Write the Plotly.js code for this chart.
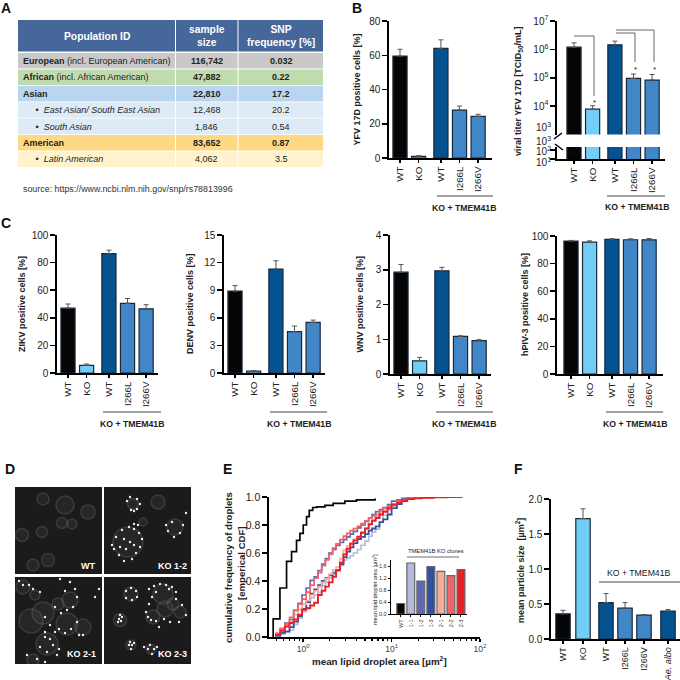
<!DOCTYPE html>
<html>
<head>
<meta charset="utf-8">
<script src="https://cdn.plot.ly/plotly-3.0.1.min.js"></script>
<style>html,body{margin:0;padding:0;background:#fff}</style>
</head>
<body>
<div id="plotDiv" style="width:680px;height:680px"></div>
<script>
// population table (panel A)
var tableHeader = ['<b>Population ID</b>', '<b>sample<br>size</b>', '<b>SNP<br>frequency [%]</b>'];
var bullet = '\u00a0\u00a0\u00a0\u00a0\u00a0\u2022\u00a0\u00a0';
var popIds = ['<b>European</b> (incl. European American)', '<b>African</b> (incl. African American)', '<b>Asian</b>',
	bullet + '<i>East Asian/ South East Asian</i>', bullet + '<i>South Asian</i>',
	'<b>American</b>', bullet + '<i>Latin American</i>'];
var popSizes = ['<b>116,742</b>', '<b>47,882</b>', '<b>22,810</b>', '12,468', '1,846', '<b>83,652</b>', '4,062'];
var popFreq = ['<b>0.032</b>', '<b>0.22</b>', '<b>17.2</b>', '20.2', '0.54', '<b>0.87</b>', '3.5'];
var popColors = ['#c9c9c9', '#c0dcae', '#bad5ef', '#deebf7', '#deebf7', '#fdd985', '#fff2cc'];

// bar panels
var labels5 = ['WT', 'KO', 'WT', 'I266L', 'I266V'];
var pos5 = [0, 1, 2.2, 3.2, 4.2];
var colors5 = ['#050505', '#72cef5', '#04528f', '#4187c8', '#4187c8'];
var yfvVal = [59.5, 1, 64, 28, 24.3];
var yfvErr = [4, 0.3, 5, 2.3, 1.2];
var titerVal = [1.2e6, 7.8e3, 1.45e6, 9.5e4, 8.3e4];
var titerErr = [5e5, 2.5e3, 5e5, 4e4, 4.7e4];
var zikvVal = [47, 5.5, 86.5, 50.5, 46.5];
var zikvErr = [3, 1, 2.5, 3.5, 3];
var denvVal = [8.9, 0.2, 11.3, 4.5, 5.5];
var denvErr = [0.6, 0.05, 0.9, 0.6, 0.25];
var wnvVal = [2.93, 0.38, 2.97, 1.08, 0.96];
var wnvErr = [0.22, 0.1, 0.1, 0.02, 0.03];
var hpivVal = [96.3, 95.5, 97.5, 97.3, 97.2];
var hpivErr = [0.5, 1, 0.6, 0.7, 1];

var labelsF = ['WT', 'KO', 'WT', 'I266L', 'I266V', '<i>Ae. albo</i>'];
var posF = [0, 1, 2.15, 3.1, 4.05, 5.25];
var colorsF = ['#050505', '#72cef5', '#04528f', '#4187c8', '#4187c8', '#04528f'];
var sizeVal = [0.36, 1.72, 0.52, 0.44, 0.34, 0.40];
var sizeErr = [0.05, 0.14, 0.13, 0.08, 0.01, 0.02];

// inset of panel E
var cloneLabels = ['WT', '1-1', '1-2', '1-3', '2-1', '2-2', '2-3'];
var cloneColors = ['#050505', '#b4b8dc', '#5f68b2', '#3350a0', '#f5ad9f', '#ee6468', '#e81f27'];
var cloneVal = [0.35, 1.7, 1.1, 1.58, 1.42, 1.28, 1.48];

var cdfWtX = [0.457, 0.457, 0.545, 0.648, 0.738, 0.84, 0.917, 1.0, 1.09, 1.17, 1.28, 1.42, 1.76, 2.18, 2.96, 4.0, 6.5];
var cdfWtY = [0, 0.13, 0.35, 0.54, 0.61, 0.69, 0.74, 0.80, 0.86, 0.905, 0.925, 0.93, 0.94, 0.955, 0.97, 0.98, 0.99];
var cdfBins = [0.48, 0.55, 0.62, 0.70, 0.78, 0.87, 0.97, 1.08, 1.2, 1.33, 1.47, 1.62, 1.78, 1.95, 2.15, 2.35, 2.6, 2.85, 3.1, 3.4,
	3.7, 4.1, 4.5, 5, 5.5, 6, 6.6, 7.3, 8, 9, 10, 11.5, 13, 15, 18, 22, 30, 42, 62];
var cdf11 = [0.003, 0.02, 0.035, 0.05, 0.09, 0.135, 0.18, 0.21, 0.28, 0.30, 0.32, 0.365, 0.39, 0.42, 0.45, 0.475, 0.51, 0.55, 0.565, 0.58,
	0.60, 0.625, 0.655, 0.685, 0.72, 0.75, 0.77, 0.82, 0.87, 0.91, 0.935, 0.96, 0.975, 0.99, 1.0];
var cdf12 = [0.02, 0.06, 0.10, 0.125, 0.19, 0.24, 0.30, 0.35, 0.405, 0.43, 0.475, 0.52, 0.56, 0.60, 0.625, 0.655, 0.675, 0.695, 0.715, 0.735,
	0.755, 0.78, 0.80, 0.825, 0.85, 0.875, 0.895, 0.91, 0.925, 0.945, 0.97, 0.98, 0.99, 0.995, 1.0];
var cdf13 = [0.01, 0.03, 0.04, 0.07, 0.11, 0.15, 0.20, 0.25, 0.31, 0.34, 0.37, 0.40, 0.42, 0.44, 0.46, 0.48, 0.52, 0.57, 0.61, 0.64,
	0.67, 0.70, 0.715, 0.735, 0.76, 0.775, 0.79, 0.82, 0.84, 0.875, 0.92, 0.95, 0.97, 0.985, 0.993, 1.0];
var cdf21 = [0.026, 0.05, 0.075, 0.11, 0.16, 0.195, 0.235, 0.26, 0.30, 0.33, 0.36, 0.39, 0.415, 0.45, 0.48, 0.50, 0.56, 0.62, 0.65, 0.675,
	0.70, 0.72, 0.75, 0.775, 0.81, 0.835, 0.86, 0.885, 0.905, 0.925, 0.945, 0.965, 0.98, 0.988, 0.995, 0.998, 1.0];
var cdf22 = [0.026, 0.06, 0.09, 0.14, 0.19, 0.235, 0.27, 0.32, 0.37, 0.42, 0.46, 0.51, 0.55, 0.59, 0.635, 0.665, 0.695, 0.72, 0.74, 0.76,
	0.775, 0.79, 0.81, 0.83, 0.85, 0.865, 0.875, 0.90, 0.92, 0.935, 0.95, 0.97, 0.98, 0.99, 0.995, 0.998, 1.0];
var cdf23 = [0.014, 0.045, 0.075, 0.10, 0.125, 0.16, 0.195, 0.205, 0.225, 0.245, 0.30, 0.33, 0.36, 0.39, 0.43, 0.475, 0.53, 0.59, 0.63, 0.665,
	0.69, 0.715, 0.745, 0.775, 0.805, 0.83, 0.85, 0.875, 0.895, 0.92, 0.945, 0.96, 0.975, 0.985, 0.99, 0.995, 0.997, 0.999, 1.0];

// panel D, cells and bright droplets seen in the micrographs (image pixels)
var wtCellX = [50, 73, 47, 57, 27, 7, 33, 18, 28];
var wtCellY = [18, 25, 36, 37, 45, 48, 73, 78, 12];
var wtCellS = [18, 14, 11, 10, 11, 13, 13, 12, 12];
var ko12CellX = [29, 54, 71, 24, 39];
var ko12CellY = [17, 15, 40, 55, 35];
var ko12CellS = [11, 14, 16, 30, 8];
var ko12SpotX = [23, 26, 33, 36, 33, 27, 30, 8, 12, 18, 25, 30, 35, 38, 36, 32, 28, 20, 15, 10, 20, 26, 22, 30, 16, 34, 30, 62, 64, 70, 76, 79, 68, 82];
var ko12SpotY = [14, 10, 12, 17, 22, 23, 24, 58, 50, 43, 40, 42, 46, 52, 60, 66, 72, 74, 68, 62, 52, 55, 62, 58, 60, 38, 37, 38, 44, 50, 46, 38, 35, 26];
var ko21CellX = [16, 28, 55, 52, 68, 32, 18, 8, 20, 43];
var ko21CellY = [44, 36, 23, 47, 50, 67, 83, 10, 18, 27];
var ko21CellS = [24, 22, 16, 22, 16, 22, 12, 14, 10, 12];
var ko21SpotX = [4, 8, 14, 18, 25, 45, 55, 50, 60, 62, 58, 52, 46, 40, 30, 35, 44, 50, 56, 62, 68, 30, 30, 35, 38, 32, 25, 44, 42, 12, 22, 30, 80, 84, 64, 40];
var ko21SpotY = [4, 8, 8, 12, 15, 2, 5, 14, 12, 20, 30, 33, 36, 30, 40, 48, 52, 56, 52, 45, 58, 55, 60, 62, 68, 75, 70, 72, 78, 78, 82, 85, 20, 12, 58, 55];
var ko23CellX = [27, 59, 69, 61, 49, 76, 16, 27, 47];
var ko23CellY = [17, 17, 27, 32, 40, 35, 43, 68, 72];
var ko23CellS = [14, 20, 12, 16, 14, 12, 13, 10, 10];
var ko23SpotX = [22, 27, 32, 33, 28, 22, 16, 15, 17, 14, 18, 25, 28, 30, 27, 26, 45, 50, 56, 62, 68, 72, 72, 65, 52, 48, 45, 42, 44, 47, 52, 60, 66, 55, 75, 82, 78, 46, 50, 48, 44, 40, 53];
var ko23SpotY = [14, 11, 14, 20, 23, 21, 38, 42, 44, 45, 40, 68, 68, 66, 72, 65, 12, 9, 7, 8, 10, 15, 22, 12, 15, 20, 27, 35, 40, 43, 44, 42, 45, 50, 45, 38, 28, 68, 72, 77, 72, 70, 70];

var FONT = '"Liberation Sans", Arial, sans-serif';
var traces = [];
var shapes = [];
var annotations = [];
var layout = {
	width: 680, height: 680,
	margin: {l: 0, r: 0, t: 0, b: 0},
	paper_bgcolor: '#fff', plot_bgcolor: 'rgba(0,0,0,0)',
	showlegend: false,
	font: {family: FONT, color: '#222', size: 10},
	shapes: shapes, annotations: annotations
};
var axisCount = 0;

function fx(px) { return px / 680; }
function fy(py) { return 1 - py / 680; }

function addText(text, px, py, size, opts) {
	var o = opts || {};
	annotations.push({
		text: text, xref: 'paper', yref: 'paper', x: fx(px), y: fy(py),
		xanchor: o.anchor || 'center', yanchor: 'middle', showarrow: false,
		textangle: o.angle || 0, borderpad: 0,
		font: {family: FONT, size: size, color: o.color || '#222'}
	});
}

function addLine(x0, y0, x1, y1, color, width) {
	shapes.push({type: 'line', xref: 'paper', yref: 'paper', x0: fx(x0), y0: fy(y0), x1: fx(x1), y1: fy(y1),
		line: {color: color || '#444', width: width || 1}});
}

function addRect(x0, y0, x1, y1, color) {
	shapes.push({type: 'rect', layer: 'below', xref: 'paper', yref: 'paper', x0: fx(x0), y0: fy(y0), x1: fx(x1), y1: fy(y1),
		fillcolor: color, line: {width: 0}});
}

// makes a pair of axes placed by pixel box, returns the trace refs
function addAxes(left, right, top, bottom, xOpts, yOpts) {
	axisCount++;
	var n = axisCount == 1 ? '' : axisCount;
	layout['xaxis' + n] = Object.assign({domain: [fx(left), fx(right)], anchor: 'y' + n, automargin: false, zeroline: false, showgrid: false}, xOpts);
	layout['yaxis' + n] = Object.assign({domain: [fy(bottom), fy(top)], anchor: 'x' + n, automargin: false, zeroline: false, showgrid: false}, yOpts);
	return {xaxis: 'x' + n, yaxis: 'y' + n};
}

function barAxisX(lo, hi, pos, labels, size) {
	return {range: [lo, hi], tickmode: 'array', tickvals: pos, ticktext: labels, tickangle: -90,
		showline: true, linecolor: '#000', linewidth: 1.6, ticks: 'outside', ticklen: 3, tickwidth: 1.5, tickcolor: '#000',
		tickfont: {size: size || 9.8, family: FONT, color: '#222'}};
}

function barAxisY(range, tickvals, ticktext, size) {
	return {range: range, tickmode: 'array', tickvals: tickvals, ticktext: ticktext || tickvals.map(String),
		showline: true, linecolor: '#000', linewidth: 1.6, ticks: 'outside', ticklen: 5, tickwidth: 1.5, tickcolor: '#000',
		tickfont: {size: size || 10, family: FONT, color: '#222'}};
}

function addBars(ax, pos, val, err, colors, width, edge) {
	var t = {type: 'bar', x: pos, y: val, width: width, xaxis: ax.xaxis, yaxis: ax.yaxis, hoverinfo: 'skip',
		marker: {color: colors, line: {color: edge || '#17293b', width: 1.2}}};
	if (err) {
		t.error_y = {type: 'data', symmetric: false, array: err, arrayminus: err.map(function() { return 0; }),
			color: '#555', thickness: 1, width: 2.5};
	}
	traces.push(t);
}

// one five bar chart with the KO + TMEM41B bracket below
function fivePanel(left, right, top, bottom, firstBar, val, err, yMax, ticks, title, titleX, lineL, lineR, lineY, textX) {
	var unit = 18.6;
	var ax = addAxes(left, right, top, bottom,
		barAxisX((left - firstBar) / unit, (right - firstBar) / unit, pos5, labels5),
		barAxisY([0, yMax], ticks));
	addBars(ax, pos5, val, err, colors5, 0.76);
	addText('<b>' + title + '</b>', titleX, (top + bottom) / 2, 9, {angle: -90});
	addLine(lineL, lineY, lineR, lineY, '#444', 1);
	addText('<b>KO + TMEM41B</b>', textX, lineY + 12, 8.7);
}

// panel A
var colEdges = [[18, 175], [176, 237.5], [238.5, 323]];
var colCenters = [97, 207, 281];
for (var c = 0; c < 3; c++) {
	addRect(colEdges[c][0], 20, colEdges[c][1], 51.5, '#46679a');
	addText(tableHeader[c], colCenters[c], 36, 10.3, {color: '#fff'});
}
for (var r = 0; r < popIds.length; r++) {
	var rowTop = 53 + r * 16.4;
	for (c = 0; c < 3; c++) {
		addRect(colEdges[c][0], rowTop, colEdges[c][1], rowTop + 15.6, popColors[r]);
	}
	addText(popIds[r], 22, rowTop + 8, 9, {anchor: 'left'});
	addText(popSizes[r], colCenters[1], rowTop + 8, 9);
	addText(popFreq[r], colCenters[2], rowTop + 8, 9);
}
addText('source: https://www.ncbi.nlm.nih.gov/snp/rs78813996', 22, 189, 8.9, {anchor: 'left', color: '#333'});

// panel B
fivePanel(389, 492, 21, 158, 400, yfvVal, yfvErr, 80, [0, 20, 40, 60, 80], 'YFV 17D positive cells [%]', 357, 437, 493, 196, 464);

var titerUnit = 18.6;
var titerXOff = barAxisX((557 - 574) / titerUnit, (665 - 574) / titerUnit, pos5, labels5);
var titerHi = addAxes(557, 665, 21, 134.5,
	{range: titerXOff.range, visible: false},
	barAxisY([3, 7], [1e4, 1e5, 1e6, 1e7], ['10<sup>4</sup>', '10<sup>5</sup>', '10<sup>6</sup>', '10<sup>7</sup>']));
layout['yaxis' + axisCount].type = 'log';
addBars(titerHi, pos5, titerVal, titerErr, colors5, 0.76);
var titerLoAxis = barAxisY([1, 2.33], [10, 100], ['10', '100']);
titerLoAxis.showticklabels = false;
var titerLo = addAxes(557, 665, 147, 159, titerXOff, titerLoAxis);
layout['yaxis' + axisCount].type = 'log';
addBars(titerLo, pos5, titerVal, null, colors5, 0.76);
addLine(554, 139, 562, 133, '#000', 1.5);
addLine(555, 144, 563, 150, '#000', 1.5);
addText('10<sup>3</sup>', 552, 127, 10, {anchor: 'right'});
addText('10<sup>3</sup>', 552, 141, 10, {anchor: 'right'});
addText('10<sup>2</sup>', 552, 151, 10, {anchor: 'right'});
addText('10<sup>1</sup>', 552, 162, 10, {anchor: 'right'});
addText('<b>viral titer YFV 17D [TCID<sub>50</sub>/mL]</b>', 519, 92, 9, {angle: -90});
addLine(574, 36, 594, 36, '#666', 1);
addLine(594, 36, 594, 96, '#666', 1);
addLine(616, 33, 635, 33, '#666', 1);
addLine(635, 33, 635, 62, '#666', 1);
addLine(616, 30, 654, 30, '#666', 1);
addLine(654, 30, 654, 62, '#666', 1);
addText('*', 594, 102, 8);
addText('*', 635, 70, 8);
addText('*', 654, 70, 8);
addLine(607, 196, 665, 196, '#444', 1);
addText('<b>KO + TMEM41B</b>', 637, 207, 8.7);

// panel C
fivePanel(57, 158, 235, 373, 68, zikvVal, zikvErr, 100, [0, 20, 40, 60, 80, 100], 'ZIKV positive cells [%]', 22, 103, 161, 412, 132);
fivePanel(224, 325, 235, 373, 235, denvVal, denvErr, 15, [0, 3, 6, 9, 12, 15], 'DENV positive cells [%]', 190, 270, 327, 412, 299);
fivePanel(390, 491, 235, 374, 401, wnvVal, wnvErr, 4, [0, 1, 2, 3, 4], 'WNV positive cells [%]', 359, 436, 493, 412, 464);
fivePanel(557, 663, 236, 374, 571, hpivVal, hpivErr, 100, [0, 20, 40, 60, 80, 100], 'hPIV-3 positive cells [%]', 525, 606, 663, 412, 635);

// panel D
function micro(left, top, cellX, cellY, cellS, spotX, spotY, label, labelX, labelY) {
	var w = 87;
	addRect(left, top, left + w, top + w, '#1b1b1b');
	var ax = addAxes(left, left + w, top, top + w, {range: [0, 87], visible: false}, {range: [87, 0], visible: false});
	traces.push({type: 'scatter', mode: 'markers', x: cellX, y: cellY, xaxis: ax.xaxis, yaxis: ax.yaxis, hoverinfo: 'skip',
		marker: {size: cellS, color: 'rgba(130,130,130,0.16)', line: {color: 'rgba(130,130,130,0.4)', width: 1.5}}});
	if (spotX) {
		traces.push({type: 'scatter', mode: 'markers', x: spotX, y: spotY, xaxis: ax.xaxis, yaxis: ax.yaxis, hoverinfo: 'skip',
			marker: {size: 2.4, color: '#eeeeee'}});
	}
	addText('<b>' + label + '</b>', labelX, labelY, 9, {color: '#fff'});
}
micro(15, 487, wtCellX, wtCellY, wtCellS, null, null, 'WT', 88, 566);
micro(104, 487, ko12CellX, ko12CellY, ko12CellS, ko12SpotX, ko12SpotY, 'KO 1-2', 172, 566);
micro(15, 577, ko21CellX, ko21CellY, ko21CellS, ko21SpotX, ko21SpotY, 'KO 2-1', 81, 654);
micro(104, 577, ko23CellX, ko23CellY, ko23CellS, ko23SpotX, ko23SpotY, 'KO 2-3', 172, 654);

// panel E
var cdfAx = addAxes(269, 480, 497, 637,
	{type: 'log', range: [Math.log10(0.41), 2], tickmode: 'array', tickvals: [1, 10, 100], ticktext: ['10<sup>0</sup>', '10<sup>1</sup>', '10<sup>2</sup>'],
		showline: true, linecolor: '#000', linewidth: 1.6, ticks: 'outside', ticklen: 3, tickwidth: 1.5, tickcolor: '#000',
		tickfont: {size: 8.6, family: FONT, color: '#444'},
		minor: {ticks: 'outside', ticklen: 2, tickwidth: 1.2, tickcolor: '#000',
			tickvals: [0.5, 0.6, 0.7, 0.8, 0.9, 2, 3, 4, 5, 6, 7, 8, 9, 20, 30, 40, 50, 60, 70, 80, 90]}},
	barAxisY([0, 1], [0, 0.2, 0.4, 0.6, 0.8, 1], ['0.0', '0.2', '0.4', '0.6', '0.8', '1.0'], 10.5));
function addCdf(x, y, color, width) {
	traces.push({type: 'scatter', mode: 'lines', x: x.slice(0, y.length), y: y, xaxis: cdfAx.xaxis, yaxis: cdfAx.yaxis, hoverinfo: 'skip',
		line: {color: color, width: width, shape: 'hv'}});
}
addCdf(cdfBins, cdf11, cloneColors[1], 1.6);
addCdf(cdfBins, cdf13, cloneColors[3], 1.8);
addCdf(cdfBins, cdf12, cloneColors[2], 1.7);
addCdf(cdfBins, cdf21, cloneColors[4], 1.7);
addCdf(cdfBins, cdf22, cloneColors[5], 1.7);
addCdf(cdfBins, cdf23, cloneColors[6], 1.9);
addCdf(cdfWtX, cdfWtY, cloneColors[0], 1.7);
addText('<b>cumulative frequency of droplets</b>', 228, 567, 9.6, {angle: -90});
addText('<b>[emperical CDF]</b>', 241, 563, 9.6, {angle: -90});
addText('<b>mean lipid droplet area [\u00b5m<sup>2</sup>]</b>', 379, 661, 9.8);

var insetAx = addAxes(391, 467, 560, 614,
	{range: [-0.97, 6.6], tickmode: 'array', tickvals: [0, 1, 2, 3, 4, 5, 6], ticktext: cloneLabels, tickangle: -90,
		showline: true, linecolor: '#000', linewidth: 1.2, ticks: 'outside', ticklen: 2, tickwidth: 1, tickcolor: '#000',
		tickfont: {size: 5.5, family: FONT, color: '#333'}},
	{range: [0, 1.8], tickmode: 'array', tickvals: [0, 0.4, 0.8, 1.2, 1.6], ticktext: ['0.0', '0.4', '0.8', '1.2', '1.6'],
		showline: true, linecolor: '#000', linewidth: 1.2, ticks: 'outside', ticklen: 2, tickwidth: 1, tickcolor: '#000',
		tickfont: {size: 5.5, family: FONT, color: '#333'}});
addBars(insetAx, [0, 1, 2, 3, 4, 5, 6], cloneVal, null, cloneColors, 0.78, '#666');
addText('mean lipid droplet area [\u00b5m<sup>2</sup>]', 375, 590, 5.5, {angle: -90});
addText('TMEM41B KO clones', 436, 551, 5.8);
addLine(407, 557, 459, 557, '#444', 0.8);

// panel F
var unitF = 20;
var fAx = addAxes(551, 680, 499, 639,
	barAxisX((551 - 563) / unitF, (680 - 563) / unitF, posF, labelsF, 9),
	barAxisY([0, 2], [0, 0.5, 1, 1.5, 2], ['0.0', '0.5', '1.0', '1.5', '2.0'], 10));
addBars(fAx, posF, sizeVal, sizeErr, colorsF, 0.72);
addText('<b>mean particle size  [\u00b5m<sup>2</sup>]</b>', 520, 571, 9, {angle: -90});
addLine(599, 582, 680, 582, '#444', 1);
addText('KO + TMEM41B', 639, 573, 8.7);

// panel letters
addText('<b>A</b>', 6, 8, 14, {color: '#111'});
addText('<b>B</b>', 357, 8, 14, {color: '#111'});
addText('<b>C</b>', 6, 223, 14, {color: '#111'});
addText('<b>D</b>', 10, 469, 14, {color: '#111'});
addText('<b>E</b>', 228, 469, 14, {color: '#111'});
addText('<b>F</b>', 518, 469, 14, {color: '#111'});

Plotly.newPlot('plotDiv', traces, layout, {displayModeBar: false, staticPlot: true});
</script>
</body>
</html>
